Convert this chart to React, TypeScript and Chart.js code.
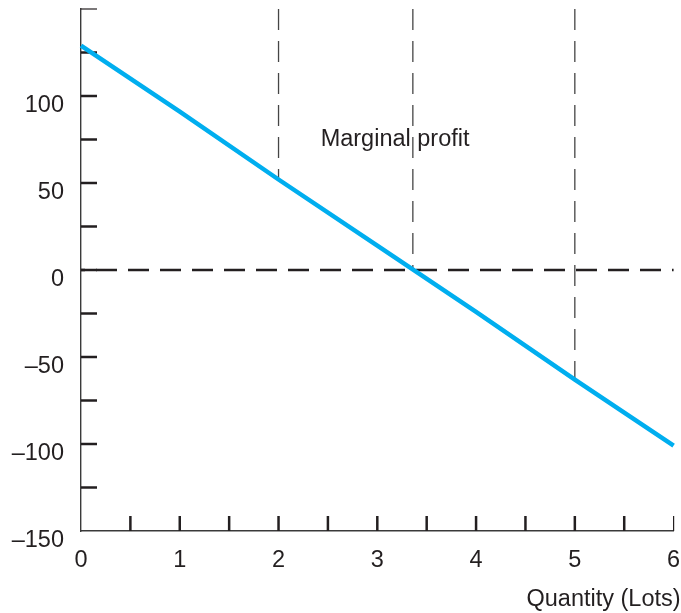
import React, { useEffect, useRef } from 'react';
import { Chart, registerables } from 'chart.js';

Chart.register(...registerables);

// ---- data ----
const quantity = [0, 1, 2, 3, 4, 5, 6];
const marginalProfit = [129, 91, 52, 14, -24, -63, -101];
const guideX = [2, 3.36, 5];
const guideBottom = [52, 0, -63];
const guideTop = 150;
const zeroLineX = [0, 6];
const zeroLineY = 0;
const yMin = -150;
const yMax = 150;
const yStep = 25;
const yLabelStep = 50;
const xMin = 0;
const xMax = 6;
const xStep = 0.5;
const annotationText = 'Marginal profit';
const annotationX = 3.18;
const annotationY = 71.5;
const xTitle = 'Quantity (Lots)';

const INK = '#231f20';
const GUIDE = '#454545';
const CYAN = '#00aeef';
const FONT_FAMILY = '"Liberation Sans", Arial, Helvetica, sans-serif';
const FONT_SIZE = 23.5;

const fmt = (v: number) => (v < 0 ? '\u2013' + Math.abs(v) : String(v));

const inwardTicks = {
  id: 'inwardTicks',
  beforeDatasetsDraw(chart: any) {
    const { ctx, chartArea, scales } = chart;
    const x = scales.x;
    const y = scales.y;
    ctx.save();
    ctx.strokeStyle = INK;
    ctx.lineCap = 'butt';
    x.ticks.forEach((t: any) => {
      if (Math.abs(t.value - x.min) < 1e-9) return;
      const px = x.getPixelForValue(t.value);
      ctx.lineWidth = Math.abs(t.value - x.max) < 1e-9 ? 1.2 : 2.5;
      ctx.beginPath();
      ctx.moveTo(px, chartArea.bottom);
      ctx.lineTo(px, chartArea.bottom - 15);
      ctx.stroke();
    });
    y.ticks.forEach((t: any) => {
      if (Math.abs(t.value - y.min) < 1e-9) return;
      const py = y.getPixelForValue(t.value);
      ctx.lineWidth = Math.abs(t.value - y.max) < 1e-9 ? 1.2 : 2.5;
      ctx.beginPath();
      ctx.moveTo(chartArea.left, py);
      ctx.lineTo(chartArea.left + 16, py);
      ctx.stroke();
    });
    ctx.restore();
  },
};

const textLabels = {
  id: 'textLabels',
  afterDatasetsDraw(chart: any) {
    const { ctx, chartArea, scales } = chart;
    const x = scales.x;
    const y = scales.y;
    ctx.save();
    ctx.fillStyle = INK;
    ctx.font = `${FONT_SIZE}px ${FONT_FAMILY}`;
    ctx.textAlign = 'center';
    ctx.textBaseline = 'alphabetic';
    ctx.fillText(annotationText, x.getPixelForValue(annotationX), y.getPixelForValue(annotationY));
    ctx.textAlign = 'right';
    ctx.fillText(xTitle, chartArea.right + 7, chartArea.bottom + 75);
    ctx.restore();
  },
};

export default function App() {
  const canvasRef = useRef<HTMLCanvasElement | null>(null);

  useEffect(() => {
    const canvas = canvasRef.current;
    if (!canvas) return;

    const datasets: any[] = [
      {
        label: 'Marginal profit',
        data: quantity.map((q, i) => ({ x: q, y: marginalProfit[i] })),
        borderColor: CYAN,
        borderWidth: 4.5,
        pointRadius: 0,
        tension: 0,
        borderCapStyle: 'butt',
        clip: 10,
      },
      {
        label: 'zero',
        data: zeroLineX.map((q) => ({ x: q, y: zeroLineY })),
        borderColor: INK,
        borderWidth: 2.5,
        borderDash: [21, 11],
        borderDashOffset: 17,
        pointRadius: 0,
        clip: 10,
      },
      ...guideX.map((gx, i) => ({
        label: 'guide' + i,
        data: [
          { x: gx, y: guideTop },
          { x: gx, y: guideBottom[i] },
        ],
        borderColor: GUIDE,
        borderWidth: 1.3,
        borderDash: [21, 11],
        pointRadius: 0,
        clip: 10,
      })),
    ];

    const chart = new Chart(canvas, {
      type: 'line',
      data: { datasets },
      plugins: [inwardTicks, textLabels],
      options: {
        animation: false,
        responsive: false,
        maintainAspectRatio: false,
        devicePixelRatio: 1,
        layout: { padding: { top: 9, right: 7.4, left: 0, bottom: 0 } },
        plugins: {
          legend: { display: false },
          tooltip: { enabled: false },
        },
        scales: {
          x: {
            type: 'linear',
            min: xMin,
            max: xMax,
            grid: { display: false, drawTicks: false },
            border: { display: true, color: '#3a3a3a', width: 1.4 },
            ticks: {
              stepSize: xStep,
              autoSkip: false,
              maxRotation: 0,
              padding: 15,
              color: INK,
              font: { family: FONT_FAMILY, size: FONT_SIZE },
              callback: (v: any) => (Number(v) % 1 === 0 ? fmt(Number(v)) : ''),
            },
            afterFit: (s: any) => {
              s.height = 82;
              s.paddingLeft = 0;
              s.paddingRight = 0;
            },
          },
          y: {
            type: 'linear',
            min: yMin,
            max: yMax,
            grid: { display: false, drawTicks: false },
            border: { display: true, color: '#3a3a3a', width: 1.4 },
            ticks: {
              stepSize: yStep,
              autoSkip: false,
              padding: 17,
              labelOffset: 10,
              color: INK,
              font: { family: FONT_FAMILY, size: FONT_SIZE },
              callback: (v: any) => {
                const n = Number(v);
                return n % yLabelStep === 0 && n !== yMax ? fmt(n) : '';
              },
            },
            afterFit: (s: any) => {
              s.width = 81;
              s.paddingTop = 0;
              s.paddingBottom = 0;
            },
          },
        },
      } as any,
    });

    return () => chart.destroy();
  }, []);

  return (
    <div style={{ position: 'fixed', left: 0, top: 0, width: 681, height: 613, background: '#fff' }}>
      <canvas ref={canvasRef} width={681} height={613} style={{ display: 'block', width: 681, height: 613 }} />
    </div>
  );
}
